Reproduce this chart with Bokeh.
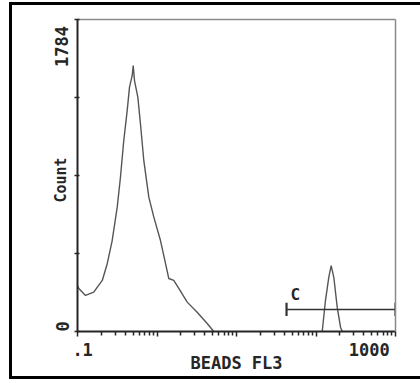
import math
from bokeh.plotting import figure
from bokeh.models import (Range1d, FixedTicker, Label, LogAxis, LinearAxis, LogScale)
from bokeh.embed import file_html
from bokeh.resources import INLINE

# ---- data ----
fl3_main = [0.1, 0.104, 0.126, 0.160, 0.205, 0.237, 0.273, 0.316, 0.347, 0.382,
            0.422, 0.451, 0.488, 0.502, 0.521, 0.574, 0.619, 0.682, 0.789, 0.912,
            1.106, 1.279, 1.407, 1.625, 1.88, 2.40, 3.20, 4.28, 5.18]
count_main = [262, 246, 206, 225, 292, 389, 520, 711, 882, 1092,
              1264, 1397, 1464, 1521, 1435, 1340, 1189, 978, 768, 654,
              520, 389, 303, 292, 246, 168, 110, 46, 0]
fl3_bead = [119.7, 131.5, 144.8, 155.2, 167.5, 184.8, 203.4, 213.6]
count_bead = [0, 177, 310, 377, 310, 139, 25, 0]

gate_name = "C"
gate_lo, gate_hi = 42.6, 1000.0
gate_level = 126

x_min, x_max = 0.1, 1000.0
y_max = 1784
y_ticks = [0, 446, 892, 1338, 1784]
x_major = [0.1, 1, 10, 100, 1000]
x_minor = [m * d for d in [0.1, 1, 10, 100] for m in range(2, 10)]
x_tick_text = {0.1: ".1", 1000: "1000"}
y_tick_text = {0: "0", 1784: "1784"}
x_title = "BEADS FL3"
y_title = "Count"

FONT = "DejaVu Sans Mono"
INK = "#262626"
NB = "\u00a0"

p = figure(width=408, height=371, x_axis_type=None, y_axis_type=None,
           output_backend="svg", toolbar_location=None,
           x_range=Range1d(x_min, x_max), y_range=Range1d(0, y_max),
           min_border_left=65, min_border_right=25,
           min_border_top=14, min_border_bottom=45)
p.x_scale = LogScale()
p.grid.visible = False
p.background_fill_color = "white"
p.border_fill_color = "white"
p.outline_line_color = None
p.styles = {"outline": "3px solid black", "margin-left": "12px", "margin-top": "5px"}

# x axis
xa = LogAxis(ticker=FixedTicker(ticks=x_major, minor_ticks=x_minor))
xa.major_label_overrides = {t: "" for t in x_major}
xa.major_label_overrides[0.1] = NB + x_tick_text[0.1]
xa.major_label_overrides[1000] = x_tick_text[1000] + NB * 3
xa.major_label_text_font = FONT
xa.major_label_text_font_style = "bold"
xa.major_label_text_font_size = "17px"
xa.major_label_text_color = INK
xa.major_label_standoff = 3
xa.axis_line_color = INK
xa.axis_line_width = 2
xa.major_tick_in = 0
xa.major_tick_out = 5
xa.minor_tick_in = 0
xa.minor_tick_out = 4
xa.major_tick_line_color = INK
xa.minor_tick_line_color = INK
xa.major_tick_line_width = 1.5
xa.minor_tick_line_width = 1.5
xa.axis_label = x_title
xa.axis_label_text_font = FONT
xa.axis_label_text_font_style = "bold"
xa.axis_label_text_font_size = "17px"
xa.axis_label_text_color = INK
xa.axis_label_standoff = -10
p.add_layout(xa, "below")

# y axis
ya = LinearAxis(ticker=FixedTicker(ticks=y_ticks, minor_ticks=[]))
ya.major_label_overrides = {t: "" for t in y_ticks}
ya.major_label_overrides[1784] = y_tick_text[1784] + NB * 2
ya.major_label_overrides[0] = NB + y_tick_text[0]
ya.major_label_orientation = "vertical"
ya.major_label_text_font = FONT
ya.major_label_text_font_style = "bold"
ya.major_label_text_font_size = "17px"
ya.major_label_text_color = INK
ya.major_label_standoff = 2
ya.axis_line_color = INK
ya.axis_line_width = 2
ya.major_tick_in = 2
ya.major_tick_out = 3
ya.major_tick_line_color = INK
ya.major_tick_line_width = 1.5
ya.axis_label = y_title + NB
ya.axis_label_text_font = FONT
ya.axis_label_text_font_style = "bold"
ya.axis_label_text_font_size = "15px"
ya.axis_label_text_color = INK
ya.axis_label_standoff = -20
p.add_layout(ya, "left")

# gray top / right frame lines
for loc, ax in (("above", LogAxis(ticker=FixedTicker(ticks=[]))),
                ("right", LinearAxis(ticker=FixedTicker(ticks=[])))):
    ax.axis_line_color = "#8a8a8a"
    ax.axis_line_width = 1.5
    ax.major_tick_line_color = None
    ax.minor_tick_line_color = None
    ax.major_label_text_font_size = "0px"
    p.add_layout(ax, loc)

# histogram lines
p.line(fl3_main, count_main, line_color="#555555", line_width=1.4)
p.line(fl3_bead, count_bead, line_color="#555555", line_width=1.4)

# gate
p.segment(x0=[gate_lo], y0=[gate_level], x1=[gate_hi], y1=[gate_level],
          line_color="#333333", line_width=1.6)
cap = 38
p.segment(x0=[gate_lo, gate_hi], y0=[gate_level - cap] * 2,
          x1=[gate_lo, gate_hi], y1=[gate_level + cap] * 2,
          line_color="#333333", line_width=2.2)
p.add_layout(Label(x=gate_lo, y=gate_level, text=gate_name, x_offset=4, y_offset=15,
                   text_baseline="alphabetic", text_font=FONT, text_font_style="bold",
                   text_font_size="16px", text_color=INK))

open("out.html", "w").write(file_html(p, INLINE))
